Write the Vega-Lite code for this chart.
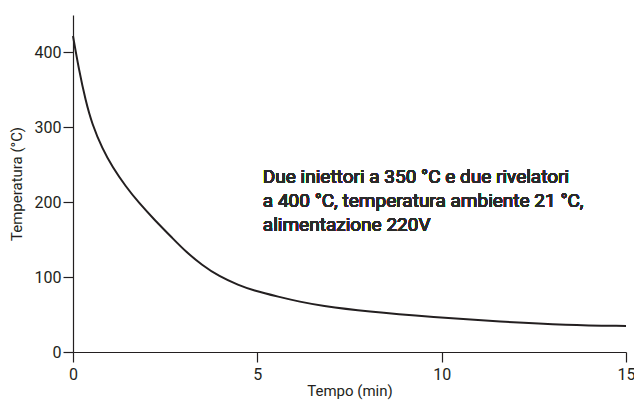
{
  "$schema": "https://vega.github.io/schema/vega-lite/v6.json",
  "width": 553,
  "height": 337,
  "autosize": "none",
  "padding": {"left": 73, "top": 15, "right": 8, "bottom": 48},
  "background": "white",
  "config": {
    "view": {"stroke": null},
    "font": "Roboto",
    "axis": {
      "domainColor": "#231f20",
      "tickColor": "#231f20",
      "labelColor": "#231f20",
      "titleColor": "#231f20",
      "labelFont": "Roboto",
      "titleFont": "Roboto",
      "labelFontSize": 16,
      "titleFontSize": 15,
      "titleFontWeight": "normal",
      "tickSize": 10,
      "grid": false,
      "domainWidth": 1.2,
      "tickWidth": 1.2
    }
  },
  "data": {
    "values": [
      {"t": 0, "T": 422},
      {"t": 0.16, "T": 377},
      {"t": 0.34, "T": 336},
      {"t": 0.52, "T": 304},
      {"t": 0.8, "T": 271},
      {"t": 1.07, "T": 247},
      {"t": 1.43, "T": 221},
      {"t": 1.79, "T": 199},
      {"t": 2.2, "T": 177},
      {"t": 2.72, "T": 151},
      {"t": 3.06, "T": 134},
      {"t": 3.5, "T": 116},
      {"t": 3.96, "T": 101},
      {"t": 4.5, "T": 89},
      {"t": 4.87, "T": 82.5},
      {"t": 5.59, "T": 73.5},
      {"t": 6.16, "T": 67},
      {"t": 6.7, "T": 62},
      {"t": 7.97, "T": 54},
      {"t": 9.78, "T": 46.5},
      {"t": 11.59, "T": 40.5},
      {"t": 13.4, "T": 36},
      {"t": 15, "T": 34.8}
    ]
  },
  "layer": [
    {
      "mark": {"type": "line", "color": "#231f20", "strokeWidth": 2, "interpolate": "basis"},
      "encoding": {
        "x": {
          "field": "t", "type": "quantitative",
          "scale": {"domain": [0, 15], "nice": false, "zero": false},
          "axis": {"values": [0, 5, 10, 15], "title": "Tempo (min)", "labelPadding": 4, "titlePadding": 1, "labelFlush": false}
        },
        "y": {
          "field": "T", "type": "quantitative",
          "scale": {"domain": [0, 450], "nice": false},
          "axis": {
            "values": [0, 50, 100, 150, 200, 250, 300, 350, 400, 450],
            "labelExpr": "datum.value % 100 === 0 ? datum.label : ''",
            "title": "Temperatura (°C)",
            "labelPadding": 2,
            "titlePadding": 10,
            "labelFlush": false
          }
        }
      }
    },
    {
      "mark": {"type": "text", "align": "left", "baseline": "alphabetic", "fontSize": 19, "fontWeight": 400, "lineHeight": 24, "font": "Roboto", "color": "#2b2b2b"},
      "encoding": {
        "x": {"datum": 5.15, "type": "quantitative"},
        "y": {"datum": 226, "type": "quantitative"},
        "text": {"value": ["Due iniettori a 350 °C e due rivelatori", "a 400 °C, temperatura ambiente 21 °C,", "alimentazione 220V"]}
      }
    }
  ]
}
